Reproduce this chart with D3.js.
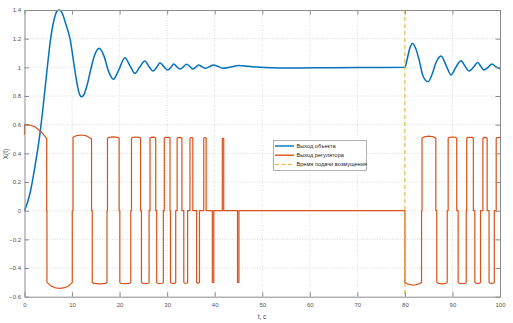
<!DOCTYPE html>
<html>
<head>
<meta charset="utf-8">
<script src="https://cdn.jsdelivr.net/npm/d3@7"></script>
<style>
  html, body { margin: 0; padding: 0; background: #fff; }
  svg { display: block; font-family: "Liberation Sans", Arial, sans-serif; }
</style>
</head>
<body>
<svg id="chart" width="513" height="323"></svg>
<script>
// Axis ticks
const xTicks = [0, 10, 20, 30, 40, 50, 60, 70, 80, 90, 100];
const yTicks = [-0.6, -0.4, -0.2, 0, 0.2, 0.4, 0.6, 0.8, 1, 1.2, 1.4];

// Plant output X(t): [t, value]
const objectOutput = [
  [0, 0], [0.5, 0.045], [1.15, 0.12], [2.2, 0.31], [3.26, 0.54], [3.8, 0.69], [4.15, 0.8],
  [4.8, 1.0], [5.5, 1.2], [6.2, 1.33], [6.8, 1.39], [7.3, 1.4], [7.9, 1.38], [8.7, 1.3],
  [9.57, 1.2], [10.5, 1.0], [11.2, 0.86], [11.6, 0.81], [12, 0.795], [12.5, 0.81], [13.2, 0.88],
  [13.9, 0.98], [14.7, 1.08], [15.7, 1.133], [16.7, 1.08], [17.7, 0.97], [18.7, 0.917], [19.8, 0.98],
  [21.1, 1.067], [22.2, 1.01], [23.2, 0.958], [24.2, 1.0], [25.3, 1.044], [26.1, 1.01],
  [27.0, 0.974], [27.8, 1.0], [28.5, 1.032], [29.3, 1.005], [30.1, 0.981], [30.8, 1.0],
  [31.4, 1.023], [32.0, 1.005], [32.7, 0.988], [33.4, 1.004], [34.1, 1.021], [34.8, 1.005],
  [35.4, 0.988], [36.0, 1.0], [36.6, 1.016], [37.3, 1.005], [38.0, 0.993], [38.9, 1.005],
  [39.7, 1.016], [40.8, 1.005], [41.8, 0.993], [43.4, 1.003], [45.0, 1.012], [47, 1.007],
  [49.5, 1.0], [53.7, 0.995], [58, 0.996], [65, 0.998], [72, 0.999], [80, 1.0],
  [80.5, 1.06], [81, 1.13], [81.6, 1.167], [82.3, 1.13], [83, 1.05], [83.8, 0.94],
  [84.9, 0.9], [85.7, 0.95], [86.5, 1.03], [87.6, 1.079], [88.7, 1.01], [89.7, 0.947],
  [90.7, 1.0], [91.8, 1.046], [92.7, 1.005], [93.5, 0.974], [94.4, 1.0], [95.3, 1.033],
  [96.0, 1.005], [96.6, 0.981], [97.5, 1.0], [98.3, 1.024], [99.1, 1.005], [100, 0.99]
];

// Controller output u(t): [t, value]
const regulatorOutput = [
  [0, 0.53], [0, 0.6], [1, 0.598], [2.2, 0.586], [3.6, 0.547], [4.67, 0.505], [4.67, 0], [4.72, 0],
  [4.72, -0.5], [5.6, -0.526], [6.5, -0.538], [7.5, -0.542], [8.5, -0.537], [9.3, -0.524], [10.05, -0.5], [10.05, 0], [10.2, 0],
  [10.2, 0.512], [11, 0.524], [12, 0.528], [13, 0.522], [14.1, 0.5], [14.1, 0], [14.25, 0],
  [14.25, -0.5], [14.6, -0.507], [15.8, -0.511], [17.0, -0.507], [17.35, -0.5], [17.35, 0], [17.45, 0],
  [17.45, 0.505], [17.8, 0.512], [18.7, 0.515], [19.6, 0.512], [19.9, 0.505], [19.9, 0], [20.05, 0],
  [20.05, -0.5], [20.3, -0.507], [21.2, -0.509], [22.1, -0.507], [22.35, -0.5], [22.35, 0], [22.5, 0],
  [22.5, 0.505], [22.75, 0.512], [23.45, 0.514], [24.15, 0.512], [24.4, 0.505], [24.4, 0], [24.6, 0],
  [24.6, -0.5], [24.85, -0.507], [25.4, -0.508], [25.95, -0.507], [26.2, -0.5], [26.2, 0], [26.4, 0],
  [26.4, 0.505], [26.6, 0.511], [27.0, 0.513], [27.4, 0.511], [27.6, 0.505], [27.6, 0], [27.8, 0],
  [27.8, -0.5], [28.0, -0.506], [28.5, -0.508], [29.0, -0.506], [29.2, -0.5], [29.2, 0], [29.4, 0],
  [29.4, 0.505], [29.6, 0.511], [30.0, 0.512], [30.4, 0.511], [30.6, 0.505], [30.6, 0], [30.7, 0],
  [30.7, -0.5], [30.9, -0.506], [31.25, -0.507], [31.6, -0.506], [31.8, -0.5], [31.8, 0], [32.1, 0],
  [32.1, 0.505], [32.3, 0.51], [32.6, 0.511], [32.9, 0.51], [33.1, 0.505], [33.1, 0], [33.5, 0],
  [33.5, -0.5], [33.65, -0.505], [33.9, -0.506], [34.15, -0.505], [34.3, -0.5], [34.3, 0], [34.8, 0],
  [34.8, 0.505], [34.95, 0.51], [35.25, 0.51], [35.4, 0.505], [35.4, 0], [36.2, 0],
  [36.2, -0.5], [36.35, -0.505], [36.65, -0.505], [36.8, -0.5], [36.8, 0], [37.7, 0],
  [37.7, 0.505], [37.85, 0.51], [38.05, 0.51], [38.2, 0.505], [38.2, 0], [39.5, 0],
  [39.5, -0.5], [39.8, -0.5], [39.8, 0], [41.6, 0],
  [41.6, 0.505], [41.9, 0.505], [41.9, 0], [44.8, 0],
  [44.8, -0.5], [45.1, -0.5], [45.1, 0], [80, 0],
  [80, -0.5], [80.5, -0.51], [81.8, -0.52], [83.0, -0.51], [83.5, -0.5], [83.5, 0], [83.6, 0],
  [83.6, 0.505], [84.1, 0.515], [85.0, 0.52], [86.0, 0.515], [86.5, 0.505], [86.5, 0], [86.7, 0],
  [86.7, -0.5], [87.0, -0.507], [87.8, -0.51], [88.6, -0.507], [88.9, -0.5], [88.9, 0], [89.1, 0],
  [89.1, 0.505], [89.35, 0.512], [90.0, 0.514], [90.65, 0.512], [90.9, 0.505], [90.9, 0], [91.2, 0],
  [91.2, -0.5], [91.45, -0.507], [92.05, -0.508], [92.65, -0.507], [92.9, -0.5], [92.9, 0], [93.0, 0],
  [93.0, 0.505], [93.2, 0.511], [93.7, 0.512], [94.2, 0.511], [94.4, 0.505], [94.4, 0], [94.7, 0],
  [94.7, -0.5], [94.9, -0.506], [95.3, -0.507], [95.7, -0.506], [95.9, -0.5], [95.9, 0], [96.4, 0],
  [96.4, 0.505], [96.55, 0.51], [96.85, 0.511], [97.15, 0.51], [97.3, 0.505], [97.3, 0], [97.7, 0],
  [97.7, -0.5], [97.9, -0.506], [98.25, -0.507], [98.6, -0.506], [98.8, -0.5], [98.8, 0], [99.2, 0],
  [99.2, 0.505], [99.4, 0.51], [100, 0.512]
];

// Moment the disturbance is applied
const disturbanceTime = [80];

const legendLabels = ["Выход объекта", "Выход регулятора", "Время подачи возмущения"];
const seriesColors = ["#0072BD", "#D95319", "#EDB120"];

const svg = d3.select("#chart");
const x = d3.scaleLinear().domain([0, 100]).range([24.5, 500]);
const y = d3.scaleLinear().domain([-0.6, 1.4]).range([296.7, 10]);

// Grid
const grid = svg.append("g").attr("stroke", "#d4d4d4").attr("stroke-width", 0.8)
  .attr("stroke-dasharray", "1,1.5");
grid.selectAll("line.gx").data(xTicks.slice(1, -1)).join("line")
  .attr("x1", d => x(d)).attr("x2", d => x(d)).attr("y1", y(1.4)).attr("y2", y(-0.6));
grid.selectAll("line.gy").data(yTicks.slice(1, -1)).join("line")
  .attr("class", "gy")
  .attr("x1", x(0)).attr("x2", x(100)).attr("y1", d => y(d)).attr("y2", d => y(d));

// Series
const plot = svg.append("g");
plot.append("path").datum(objectOutput)
  .attr("fill", "none").attr("stroke", seriesColors[0]).attr("stroke-width", 1.5)
  .attr("d", d3.line().x(d => x(d[0])).y(d => y(d[1])).curve(d3.curveMonotoneX));
plot.append("path").datum(regulatorOutput)
  .attr("fill", "none").attr("stroke", seriesColors[1]).attr("stroke-width", 1.2)
  .attr("stroke-linejoin", "round")
  .attr("d", d3.line().x(d => x(d[0])).y(d => y(d[1])));
plot.selectAll("line.dist").data(disturbanceTime).join("line")
  .attr("class", "dist")
  .attr("x1", d => x(d)).attr("x2", d => x(d)).attr("y1", y(1.4)).attr("y2", y(-0.6))
  .attr("stroke", seriesColors[2]).attr("stroke-width", 1).attr("stroke-dasharray", "4,3");

// Axes (ticks pointing inward, box on all sides)
const fmt = d => d3.format("")(+d.toFixed(1));
const axisColor = "#8c8c8c";
function styleAxis(g) {
  g.select(".domain").attr("stroke", axisColor).attr("stroke-width", 1);
  g.selectAll(".tick line").attr("stroke", axisColor);
  g.selectAll(".tick text").attr("fill", "#555").attr("font-size", "6px");
}
svg.append("g").attr("transform", `translate(0,${y(-0.6)})`)
  .call(d3.axisBottom(x).tickValues(xTicks).tickSizeInner(-4.5).tickSizeOuter(0).tickPadding(6).tickFormat(fmt))
  .call(styleAxis);
svg.append("g").attr("transform", `translate(0,${y(1.4)})`)
  .call(d3.axisTop(x).tickValues(xTicks).tickSizeInner(-4.5).tickSizeOuter(0).tickFormat(""))
  .call(styleAxis);
svg.append("g").attr("transform", `translate(${x(0)},0)`)
  .call(d3.axisLeft(y).tickValues(yTicks).tickSizeInner(-4.5).tickSizeOuter(0).tickPadding(3.5).tickFormat(fmt))
  .call(styleAxis);
svg.append("g").attr("transform", `translate(${x(100)},0)`)
  .call(d3.axisRight(y).tickValues(yTicks).tickSizeInner(-4.5).tickSizeOuter(0).tickFormat(""))
  .call(styleAxis);

// Axis titles
svg.append("text").attr("x", 262).attr("y", 318.5).attr("text-anchor", "middle")
  .attr("font-size", "6.5px").attr("fill", "#444").text("t, c");
svg.append("text").attr("transform", "translate(8,154) rotate(-90)").attr("text-anchor", "middle")
  .attr("font-size", "6.5px").attr("fill", "#444").text("X(t)");

// Legend
const lg = svg.append("g").attr("transform", "translate(273.5,140.5)");
lg.append("rect").attr("width", 93).attr("height", 30)
  .attr("fill", "#fff").attr("stroke", "#a0a0a0").attr("stroke-width", 0.8);
legendLabels.forEach((label, i) => {
  const yy = 5.5 + i * 9.2;
  lg.append("line").attr("x1", 1.5).attr("x2", 20.5).attr("y1", yy).attr("y2", yy)
    .attr("stroke", seriesColors[i]).attr("stroke-width", i === 2 ? 1 : 1.4)
    .attr("stroke-dasharray", i === 2 ? "4,2.5" : null);
  lg.append("text").attr("x", 23).attr("y", yy).attr("dy", "0.35em")
    .attr("font-size", "5.6px").attr("fill", "#222").text(label);
});
</script>
</body>
</html>
